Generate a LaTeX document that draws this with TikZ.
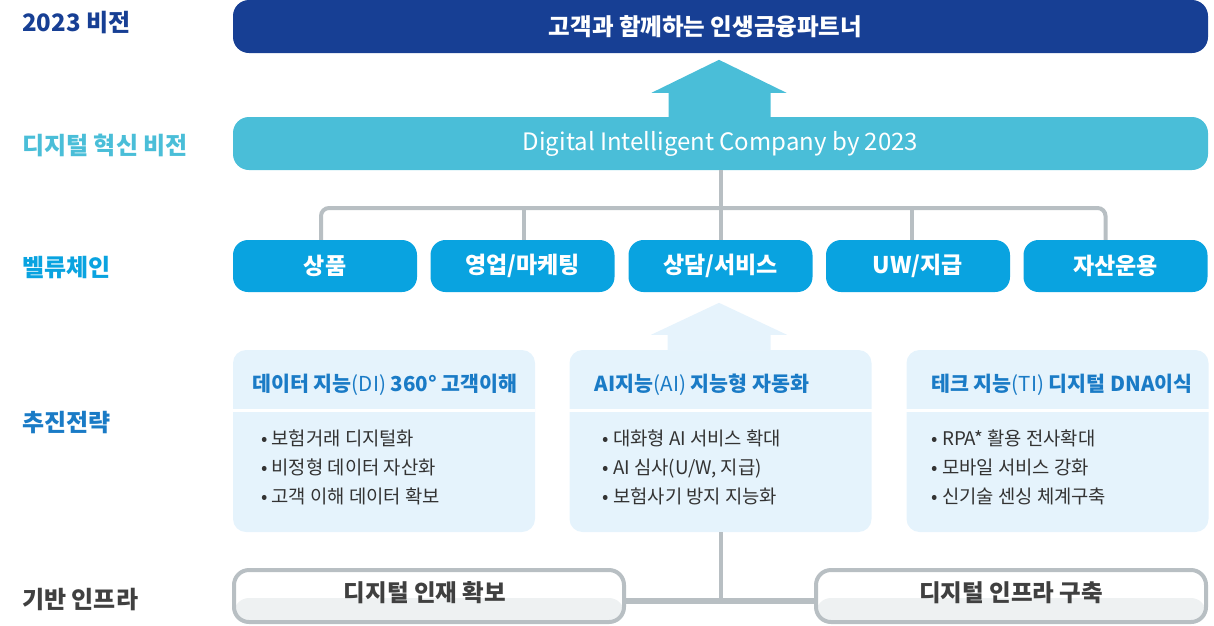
\documentclass[tikz,border=0pt]{standalone}
\usepackage{fontspec}
\setmainfont{Noto Sans CJK KR}
\usetikzlibrary{calc}
\definecolor{navy}{HTML}{173F94}
\definecolor{cyanb}{HTML}{4ABED8}
\definecolor{vcblue}{HTML}{09A3E0}
\definecolor{stblue}{HTML}{1A7BC6}
\definecolor{lightbg}{HTML}{E5F3FC}
\definecolor{arrowbg}{HTML}{E6F3FC}
\definecolor{linegray}{HTML}{B8BFC3}
\definecolor{infralow}{HTML}{EEF1F2}
\definecolor{darktxt}{HTML}{404040}
\definecolor{bodytxt}{HTML}{333333}
\begin{document}
\begin{tikzpicture}[x=1pt,y=-1pt,
  lbl/.style={anchor=west, font=\bfseries\fontsize{24}{26}\selectfont, inner sep=0},
  bar/.style={rounded corners=16pt, minimum width=975pt, minimum height=53pt, inner sep=0, text=white},
  vcbox/.style={fill=vcblue, rounded corners=15pt, minimum width=184pt, minimum height=52pt, inner sep=0, text=white, font=\bfseries\fontsize{23}{25}\selectfont},
  stbox/.style={fill=lightbg, rounded corners=13pt, minimum width=302pt, minimum height=182pt, inner sep=0},
  sthead/.style={text=stblue, font=\bfseries\fontsize{20.6}{22}\selectfont, inner sep=0},
  stbody/.style={anchor=west, text=bodytxt, font=\fontsize{18.8}{29}\selectfont, align=left, inner sep=0},
  infbox/.style={draw=linegray, line width=4pt, rounded corners=15pt, minimum width=390pt, minimum height=52pt, inner sep=0,
    path picture={\fill[infralow] ([yshift=-2pt]path picture bounding box.west) rectangle (path picture bounding box.south east);}},
  inftext/.style={text=darktxt, font=\bfseries\fontsize{23.5}{25}\selectfont, inner sep=0},
  conn/.style={draw=linegray, line width=4pt},
]
\useasboundingbox (0,0) rectangle (1214,625);

% left labels
\node[lbl, text=navy]     (l1) at (22,23)  {2023 비전};
\node[lbl, text=cyanb]    (l2) at (22,145) {디지털 혁신 비전};
\node[lbl, text=vcblue]   (l3) at (22,268) {벨류체인};
\node[lbl, text=stblue]   (l4) at (22,423) {추진전략};
\node[lbl, text=darktxt]  (l5) at (22,600) {기반 인프라};

% vision bars
\node[bar, fill=navy] (v1) at (720.5,26.5) {};
\node[text=white, inner sep=0, font=\bfseries\fontsize{23.5}{25}\selectfont] (v1t) at ($(v1.center)+(-15,0)$) {고객과 함께하는 인생금융파트너};
\node[bar, fill=cyanb, font=\fontsize{24}{26}\selectfont] (v2) at (720.5,143.5) {Digital Intelligent Company by 2023};

% big up arrow between bars
\fill[cyanb] ($(v2.north)+(-52,1)$) -- ($(v2.north)+(-52,-24)$) -- ($(v2.north)+(-69,-24)$)
  -- ($(v2.north)+(-1.5,-57)$) -- ($(v2.north)+(66,-24)$) -- ($(v2.north)+(50,-24)$) -- ($(v2.north)+(50,1)$) -- cycle;

% value chain
\node[vcbox] (vc1) at (325,266)    {상품};
\node[vcbox] (vc2) at (522.5,266)  {영업/마케팅};
\node[vcbox] (vc3) at (720.5,266)  {상담/서비스};
\node[vcbox] (vc4) at (918,266)    {UW/지급};
\node[vcbox] (vc5) at (1115.5,266) {자산운용};

\coordinate (bus) at (720.5,208);
\draw[conn, rounded corners=8pt] ([xshift=-4pt]vc1.north) |- (bus) -| ([xshift=-10pt]vc5.north);
\draw[conn] (v2.south) -- (vc3.north);
\draw[conn] ([xshift=1.5pt]vc2.north) -- ([xshift=1.5pt]vc2.north |- bus);
\draw[conn] ([xshift=-6pt]vc4.north) -- ([xshift=-6pt]vc4.north |- bus);

% strategy boxes
\node[stbox] (s1) at (384,441)    {};
\node[stbox] (s2) at (720.5,441)  {};
\node[stbox] (s3) at (1057.5,441) {};

% light arrow into value chain
\fill[arrowbg] ($(s2.north)+(-53,1)$) -- ($(s2.north)+(-53,-15)$) -- ($(s2.north)+(-69.5,-15)$)
  -- ($(s2.north)+(-1.5,-47)$) -- ($(s2.north)+(66.5,-15)$) -- ($(s2.north)+(50,-15)$) -- ($(s2.north)+(50,1)$) -- cycle;

\coordinate (dv) at (0,410);
\foreach \s in {s1,s2,s3}{
  \draw[white, line width=3pt] (\s.west |- dv) -- (\s.east |- dv);
}

\node[sthead] (h1) at (385,385)  {데이터 지능{\mdseries(DI)} 360° 고객이해};
\node[sthead] (h2) at (702,385)  {AI지능{\mdseries(AI)} 지능형 자동화};
\node[sthead] (h3) at (1062,385) {테크 지능{\mdseries(TI)} 디지털 DNA이식};

\node[stbody] (b1) at ($(s1.west)+(28,26)$) {• 보험거래 디지털화\\• 비정형 데이터 자산화\\• 고객 이해 데이터 확보};
\node[stbody] (b2) at ($(s2.west)+(33,26)$) {• 대화형 AI 서비스 확대\\• AI 심사(U/W, 지급)\\• 보험사기 방지 지능화};
\node[stbody] (b3) at ($(s3.west)+(25,26)$) {• RPA* 활용 전사확대\\• 모바일 서비스 강화\\• 신기술 센싱 체계구축};

% infrastructure
\node[infbox] (i1) at (429,596)  {};
\node[infbox] (i2) at (1011,596) {};
\node[inftext] (i1t) at ($(i1.center)+(-4,-3)$) {디지털 인재 확보};
\node[inftext] (i2t) at ($(i2.center)+(0,-3)$)  {디지털 인프라 구축};

\coordinate (hb) at (720.5,601);
\draw[draw=linegray, line width=6pt] (i1.east |- hb) -- (i2.west |- hb);
\draw[conn] (s2.south) -- (s2.south |- hb);
\end{tikzpicture}
\end{document}
